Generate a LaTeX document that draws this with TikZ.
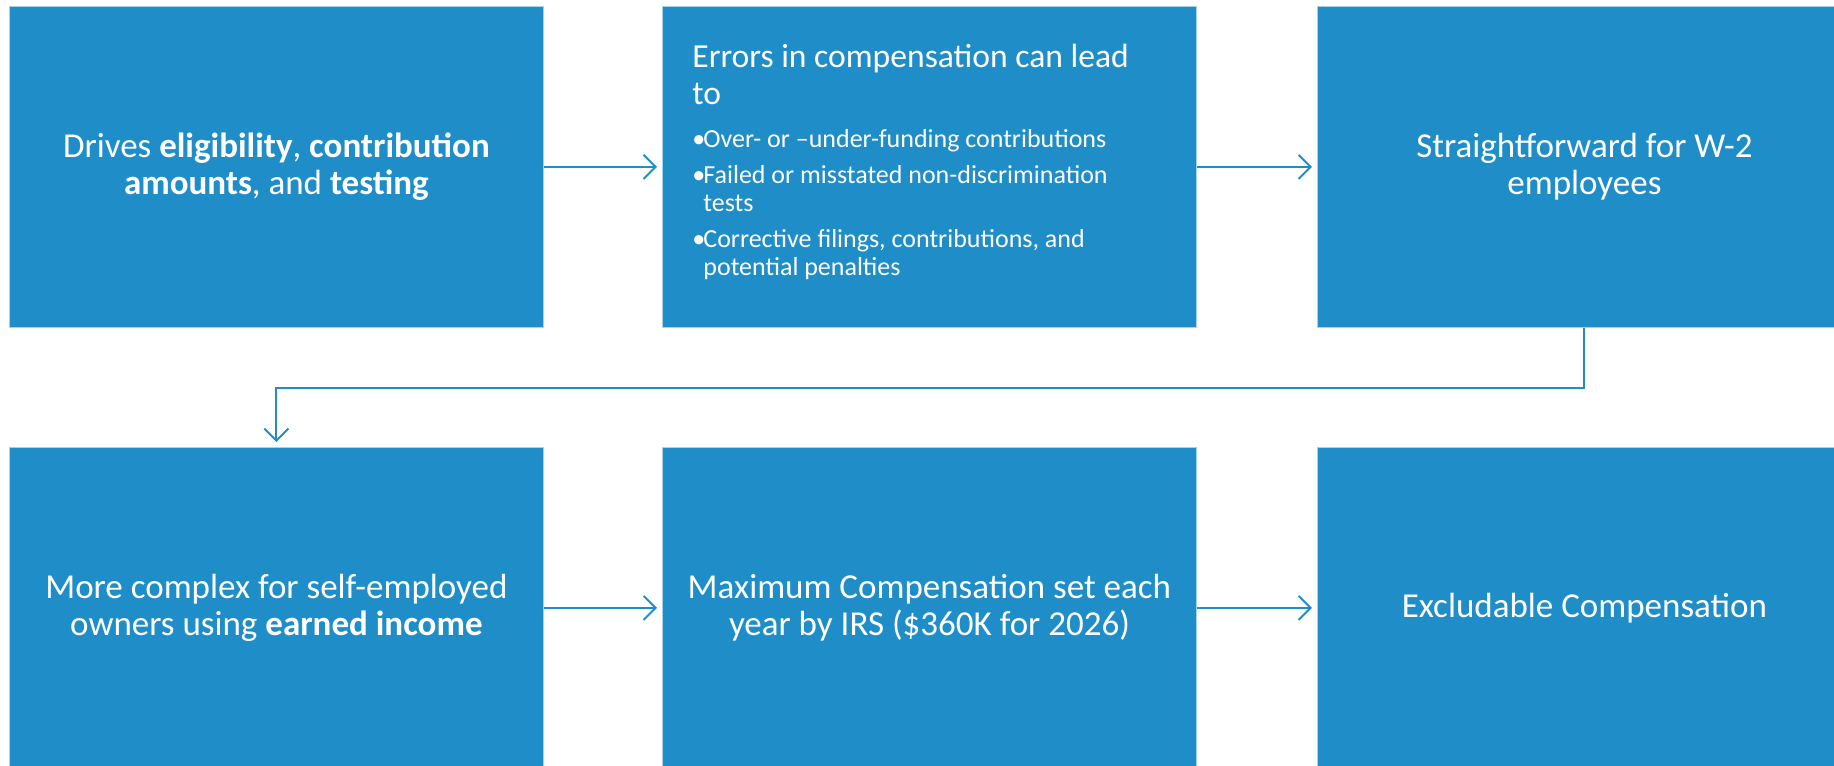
\documentclass[tikz,border=0pt]{standalone}
\usepackage{fontspec}
\setmainfont{Carlito}
\usetikzlibrary{arrows.meta}
\definecolor{planblue}{RGB}{31,142,200}

\newcommand{\bpoint}[1]{\par\vspace{4pt}\hangindent=5.5pt\hangafter=1\noindent\makebox[5.5pt][l]{\textbullet}#1}

\begin{document}
\begin{tikzpicture}[x=0.5pt,y=-0.5pt]

%
% Styles
%
\tikzstyle{stage}  = [anchor=north west,rectangle,fill=planblue,draw=white!60!planblue,line width=0.4pt,
                      minimum width=267pt,minimum height=160.5pt,inner sep=0pt,
                      text=white,font=\fontsize{17.5pt}{18.7pt}\selectfont,align=center]
\tikzstyle{link}   = [-{Straight Barb[length=6pt,width=12pt]},draw=planblue,line width=1pt,shorten >=2.5pt]

\useasboundingbox (0,0) rectangle (1834,765);
\clip (0,0) rectangle (1834,765);

\node[stage] (drives) at (   9,  6) {Drives \textbf{eligibility}, \textbf{contribution}\\ \textbf{amounts}, and \textbf{testing}};
\node[stage] (errors) at ( 662,  6) {\parbox{237pt}{\raggedright
  {\fontsize{16.8pt}{18.5pt}\selectfont Errors in compensation can lead\newline to\par}
  \vspace{3.5pt}\fontsize{13pt}{14pt}\selectfont
  \bpoint{Over- or –under-funding contributions}
  \bpoint{Failed or misstated non-discrimination\newline tests}
  \bpoint{Corrective filings, contributions, and\newline potential penalties}\par
  \vspace{5pt}}};
\node[stage] (wtwo)   at (1317,  6) {Straightforward for W-2\\ employees};

\node[stage] (selfemp) at (   9,447) {More complex for self-employed\\ owners using \textbf{earned income}};
\node[stage] (maxcomp) at ( 662,447) {Maximum Compensation set each\\ year by IRS (\$360K for 2026)};
\node[stage] (exclude) at (1317,447) {Excludable Compensation};

\draw[link] (drives)  -- (errors);
\draw[link] (errors)  -- (wtwo);
\draw[link] (wtwo.south) -- ++(0,60) -| (selfemp.north);
\draw[link] (selfemp) -- (maxcomp);
\draw[link] (maxcomp) -- (exclude);

\end{tikzpicture}
\end{document}
